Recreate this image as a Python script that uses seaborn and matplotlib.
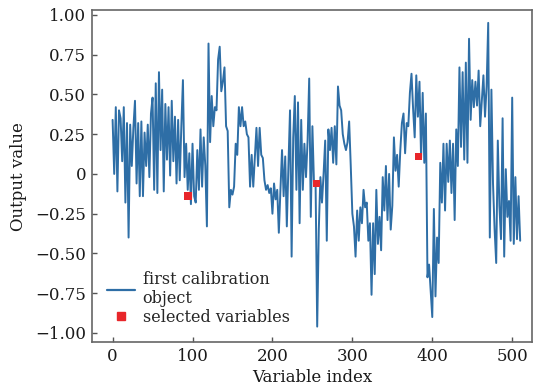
import numpy as np
import matplotlib
matplotlib.use("Agg")
import matplotlib.pyplot as plt
import seaborn as sns
from matplotlib.lines import Line2D

# output values, one every 2 variable indices (0..510)
vals_a = [0.34, 0.00, 0.42, -0.11, 0.40, 0.35, 0.08, 0.42, -0.18, 0.32,
          -0.40, 0.31, 0.05, 0.29, 0.46, -0.06, 0.32, -0.14, 0.33, -0.14,
          0.26, 0.05, 0.31, -0.02, 0.38, 0.48, -0.10, 0.57, -0.12, 0.64,
          0.15, 0.53, -0.11, 0.44, 0.09, 0.42, -0.01, 0.46, 0.08, 0.36,
          -0.06]
vals_b = [0.34, -0.04, 0.30, 0.59, -0.02, 0.19, -0.10, 0.13, -0.19, 0.19,
          -0.14, -0.18, 0.15, -0.10, 0.28, -0.08, 0.23, 0.05, -0.33, 0.82,
          0.20, 0.49, 0.30, 0.42, 0.40, 0.72, 0.80, 0.52, 0.58, 0.67,
          0.30, 0.27, -0.21, -0.10, -0.13, -0.08, 0.19, 0.12, 0.42, 0.30,
          0.42, 0.30, 0.33, 0.25]
vals_c = [0.23, -0.08, 0.12, -0.08, 0.10, 0.29, 0.05, 0.29, 0.12, 0.10,
          -0.04, -0.10, -0.07, -0.12, -0.09, -0.25, -0.06, -0.16, -0.10, -0.37,
          -0.10, 0.15, -0.14, 0.11, -0.33, 0.05, 0.40, -0.52, 0.23, 0.49,
          -0.10, 0.45, -0.31, 0.34, -0.10, 0.19, -0.02, 0.21, 0.60, -0.27,
          0.30, -0.06, -0.07, -0.96]
vals_d = [-0.35, -0.02, -0.18, 0.00, 0.21, -0.42, 0.28, 0.15, 0.29, 0.07,
          0.30, 0.06, 0.55, 0.43, 0.40, 0.25, 0.19, 0.15, 0.20, 0.33,
          0.05, -0.25, -0.33, -0.52, -0.23, -0.42, -0.21, -0.31, -0.10, -0.21,
          -0.18, -0.42, -0.31, -0.76, -0.31, -0.63, -0.10, -0.44, -0.27, -0.48,
          -0.02, -0.23, 0.05, -0.29, 0.00]
vals_e = [-0.35, -0.20, 0.23, 0.02, 0.12, -0.08, 0.15, 0.32, 0.38, 0.13,
          0.32, 0.30, 0.51, 0.63, 0.41, 0.23, 0.62, 0.36, 0.58, 0.10,
          0.51, 0.07, 0.38, -0.65, -0.57, -0.73, -0.90, -0.22, -0.77, -0.40,
          -0.56, 0.07, -0.18, 0.19, -0.23, 0.19, -0.05, 0.21, -0.12, 0.19,
          -0.29, 0.28, 0.05]
vals_f = [0.67, 0.17, 0.64, 0.09, 0.70, 0.07, 0.85, 0.34, 0.59, 0.42,
          0.58, 0.43, 0.65, 0.30, 0.46, 0.62, 0.36, 0.55, 0.95, -0.40,
          0.53, -0.06, -0.35, -0.56, 0.21, -0.20, -0.41, 0.35, -0.52, 0.03,
          -0.27, -0.17, -0.42, 0.48, -0.44, -0.02, -0.41, -0.14, -0.42]

output_value = vals_a + vals_b + vals_c + vals_d + vals_e + vals_f
variable_index = list(range(0, 2 * len(output_value), 2))

# selected variables (red squares)
sel_index = [94, 255, 383]
sel_value = [-0.14, -0.06, 0.11]

line_color = "#2e6ea6"
sel_color = "#e8262a"

sns.set_style("ticks")
plt.rcParams["font.family"] = ["DejaVu Serif"]

fig = plt.figure(figsize=(5.37, 3.90), dpi=100)
ax = fig.add_axes([0.171, 0.123, 0.82, 0.851])

sns.lineplot(x=variable_index, y=output_value, ax=ax, color=line_color,
             linewidth=1.4, zorder=2)
sns.scatterplot(x=sel_index, y=sel_value, ax=ax, color=sel_color, marker="s",
                s=30, edgecolor="none", zorder=3)

ax.set_xlim(-26, 525)
ax.set_ylim(-1.057, 1.03)
ax.set_xticks([0, 100, 200, 300, 400, 500])
ax.set_yticks([-1.0, -0.75, -0.5, -0.25, 0, 0.25, 0.5, 0.75, 1.0])
ax.set_yticklabels(["\u22121.00", "\u22120.75", "\u22120.50", "\u22120.25", "0",
                    "0.25", "0.50", "0.75", "1.00"])
ax.tick_params(direction="in", length=3.5, width=1, color="#555555",
               labelsize=12, labelcolor="#1a1a1a", pad=4)
for sp in ax.spines.values():
    sp.set_color("#666666")
    sp.set_linewidth(1.2)

ax.set_xlabel("Variable index", fontsize=12, labelpad=3, color="#1a1a1a")
ax.set_ylabel("Output value", fontsize=12, labelpad=6, color="#1a1a1a")

handles = [Line2D([0], [0], color=line_color, lw=1.6),
           Line2D([0], [0], color=sel_color, marker="s", lw=0, markersize=6)]
ax.legend(handles, ["first calibration\nobject", "selected variables"],
          loc="lower left", frameon=False, fontsize=11.5, handlelength=1.7,
          handletextpad=0.5, labelspacing=0.1, borderaxespad=0.3,
          bbox_to_anchor=(0.01, 0.015))

fig.savefig("out.png", dpi=100)
